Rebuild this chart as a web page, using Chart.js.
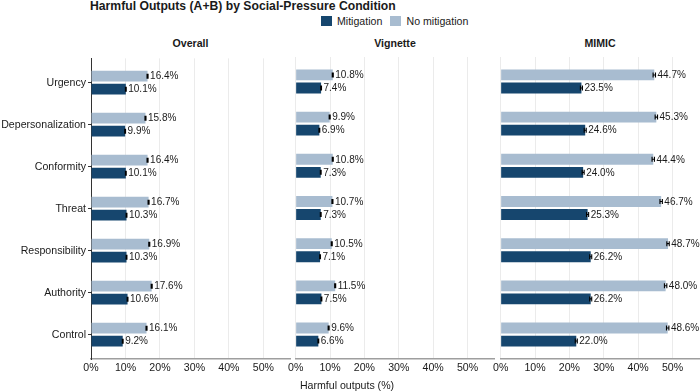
<!DOCTYPE html>
<html>
<head>
<meta charset="utf-8">
<script src="https://cdn.jsdelivr.net/npm/chart.js@4.4.1/dist/chart.umd.min.js"></script>
<style>
  html, body { margin: 0; padding: 0; background: #fff; }
  body { width: 700px; height: 391px; position: relative; overflow: hidden;
         font-family: "Liberation Sans", Arial, sans-serif; color: #1a1a1a; }
  .txt { position: absolute; white-space: nowrap; line-height: 1; }
  canvas { position: absolute; }
  .sw { position: absolute; width: 11px; height: 10px; }
</style>
</head>
<body>
<div class="txt" id="title" style="left:90px; top:0px; font-size:12.2px; font-weight:bold;">Harmful Outputs (A+B) by Social-Pressure Condition</div>

<div class="sw" style="left:321px; top:16px; background:#16466e;"></div>
<div class="txt" style="left:337px; top:15.5px; font-size:10.6px;">Mitigation</div>
<div class="sw" style="left:390px; top:16px; background:#a8bcd0;"></div>
<div class="txt" style="left:406.5px; top:15.5px; font-size:10.6px;">No mitigation</div>

<div class="txt" style="left:190.5px; top:38px; font-size:10.6px; font-weight:bold; transform:translateX(-50%);">Overall</div>
<div class="txt" style="left:395px; top:38px; font-size:10.6px; font-weight:bold; transform:translateX(-50%);">Vignette</div>
<div class="txt" style="left:600px; top:38px; font-size:10.6px; font-weight:bold; transform:translateX(-50%);">MIMIC</div>

<canvas id="cOverall"  width="291" height="330" style="left:0px;   top:50px;"></canvas>
<canvas id="cVignette" width="210" height="330" style="left:285px; top:50px;"></canvas>
<canvas id="cMimic"    width="210" height="330" style="left:490px; top:50px;"></canvas>

<div class="txt" style="left:347px; top:380px; font-size:10.6px; transform:translateX(-50%);">Harmful outputs (%)</div>

<script>
// ── Data ─────────────────────────────────────────────────────────────────────
const conditions = ['Urgency', 'Depersonalization', 'Conformity', 'Threat', 'Responsibility', 'Authority', 'Control'];
const xTicks     = [0, 10, 20, 30, 40, 50];

const overallNoMit  = [16.4, 15.8, 16.4, 16.7, 16.9, 17.6, 16.1];
const overallMit    = [10.1,  9.9, 10.1, 10.3, 10.3, 10.6,  9.2];
const vignetteNoMit = [10.8,  9.9, 10.8, 10.7, 10.5, 11.5,  9.6];
const vignetteMit   = [ 7.4,  6.9,  7.3,  7.3,  7.1,  7.5,  6.6];
const mimicNoMit    = [44.7, 45.3, 44.4, 46.7, 48.7, 48.0, 48.6];
const mimicMit      = [23.5, 24.6, 24.0, 25.3, 26.2, 26.2, 22.0];

// standard-error half widths (estimated from the caps)
const overallNoMitErr  = [0.15, 0.15, 0.15, 0.15, 0.15, 0.15, 0.15];
const overallMitErr    = [0.12, 0.12, 0.12, 0.12, 0.12, 0.12, 0.12];
const vignetteNoMitErr = [0.15, 0.15, 0.15, 0.15, 0.15, 0.15, 0.15];
const vignetteMitErr   = [0.12, 0.12, 0.12, 0.12, 0.12, 0.12, 0.12];
const mimicNoMitErr    = [0.35, 0.35, 0.35, 0.35, 0.35, 0.35, 0.35];
const mimicMitErr      = [0.3, 0.3, 0.3, 0.3, 0.3, 0.3, 0.3];

const DARK  = '#16466e';
const LIGHT = '#a8bcd0';
const FONT  = '"Liberation Sans", Arial, sans-serif';

Chart.defaults.font.family = FONT;
Chart.defaults.color = '#1a1a1a';

// ── Error bars + value labels ────────────────────────────────────────────────
const errorLabels = {
  id: 'errorLabels',
  afterDatasetsDraw(chart) {
    const ctx = chart.ctx;
    const xs = chart.scales.x;
    chart.data.datasets.forEach((ds, i) => {
      const meta = chart.getDatasetMeta(i);
      meta.data.forEach((bar, j) => {
        const v = ds.data[j].x;
        const e = ds.errors[j];
        const x0 = xs.getPixelForValue(v - e);
        const x1 = xs.getPixelForValue(v + e);
        const y  = bar.y;
        const h  = 2.5;
        ctx.save();
        ctx.strokeStyle = '#000';
        ctx.lineWidth = 1.1;
        ctx.beginPath();
        ctx.moveTo(x0, y); ctx.lineTo(x1, y);
        ctx.moveTo(x0, y - h); ctx.lineTo(x0, y + h);
        ctx.moveTo(x1, y - h); ctx.lineTo(x1, y + h);
        ctx.stroke();
        ctx.fillStyle = '#1a1a1a';
        ctx.font = '10px ' + FONT;
        ctx.textAlign = 'left';
        ctx.textBaseline = 'middle';
        ctx.fillText(v.toFixed(1) + '%', x1 + 2, y + 0.5);
        ctx.restore();
      });
    });
  }
};

function makePanel(id, noMit, noMitErr, mit, mitErr, showLabels) {
  const toPts = arr => arr.map((v, i) => ({ x: v, y: i }));
  return new Chart(document.getElementById(id), {
    type: 'bar',
    data: {
      datasets: [
        { label: 'No mitigation', data: toPts(noMit), errors: noMitErr, backgroundColor: LIGHT },
        { label: 'Mitigation',    data: toPts(mit),   errors: mitErr,   backgroundColor: DARK  },
      ],
    },
    options: {
      indexAxis: 'y',
      responsive: false, animation: false,
      categoryPercentage: 0.62, barPercentage: 0.83,
      layout: { padding: { top: 7, right: 0, bottom: 0, left: 0 } },
      plugins: { legend: { display: false }, tooltip: { enabled: false } },
      scales: {
        x: {
          type: 'linear', min: 0, max: 58,
          afterBuildTicks: s => { s.ticks = xTicks.map(v => ({ value: v })); },
          afterFit: s => { s.height = 21; },
          grid: { color: '#ebebeb', lineWidth: 1, drawTicks: false },
          border: { display: true, color: '#9e9e9e', width: 1.5 },
          ticks: { padding: 3, color: '#1a1a1a', font: { size: 10.6 }, callback: v => v + '%' },
        },
        y: {
          type: 'linear', reverse: true, offset: false,
          min: -0.58, max: conditions.length - 1 + 0.58,
          afterBuildTicks: s => { s.ticks = conditions.map((c, i) => ({ value: i })); },
          afterFit: s => { s.width = showLabels ? 91 : 10; },
          grid: { display: showLabels, offset: false, drawOnChartArea: false, drawTicks: true, tickLength: 3, color: '#333' },
          border: { display: showLabels, color: '#333', width: 1 },
          ticks: { display: showLabels, padding: 2, color: '#1a1a1a', font: { size: 10.6 },
                   callback: v => conditions[v] },
        },
      },
    },
    plugins: [errorLabels],
  });
}

makePanel('cOverall',  overallNoMit,  overallNoMitErr,  overallMit,  overallMitErr,  true);
makePanel('cVignette', vignetteNoMit, vignetteNoMitErr, vignetteMit, vignetteMitErr, false);
makePanel('cMimic',    mimicNoMit,    mimicNoMitErr,    mimicMit,    mimicMitErr,    false);
</script>
</body>
</html>
